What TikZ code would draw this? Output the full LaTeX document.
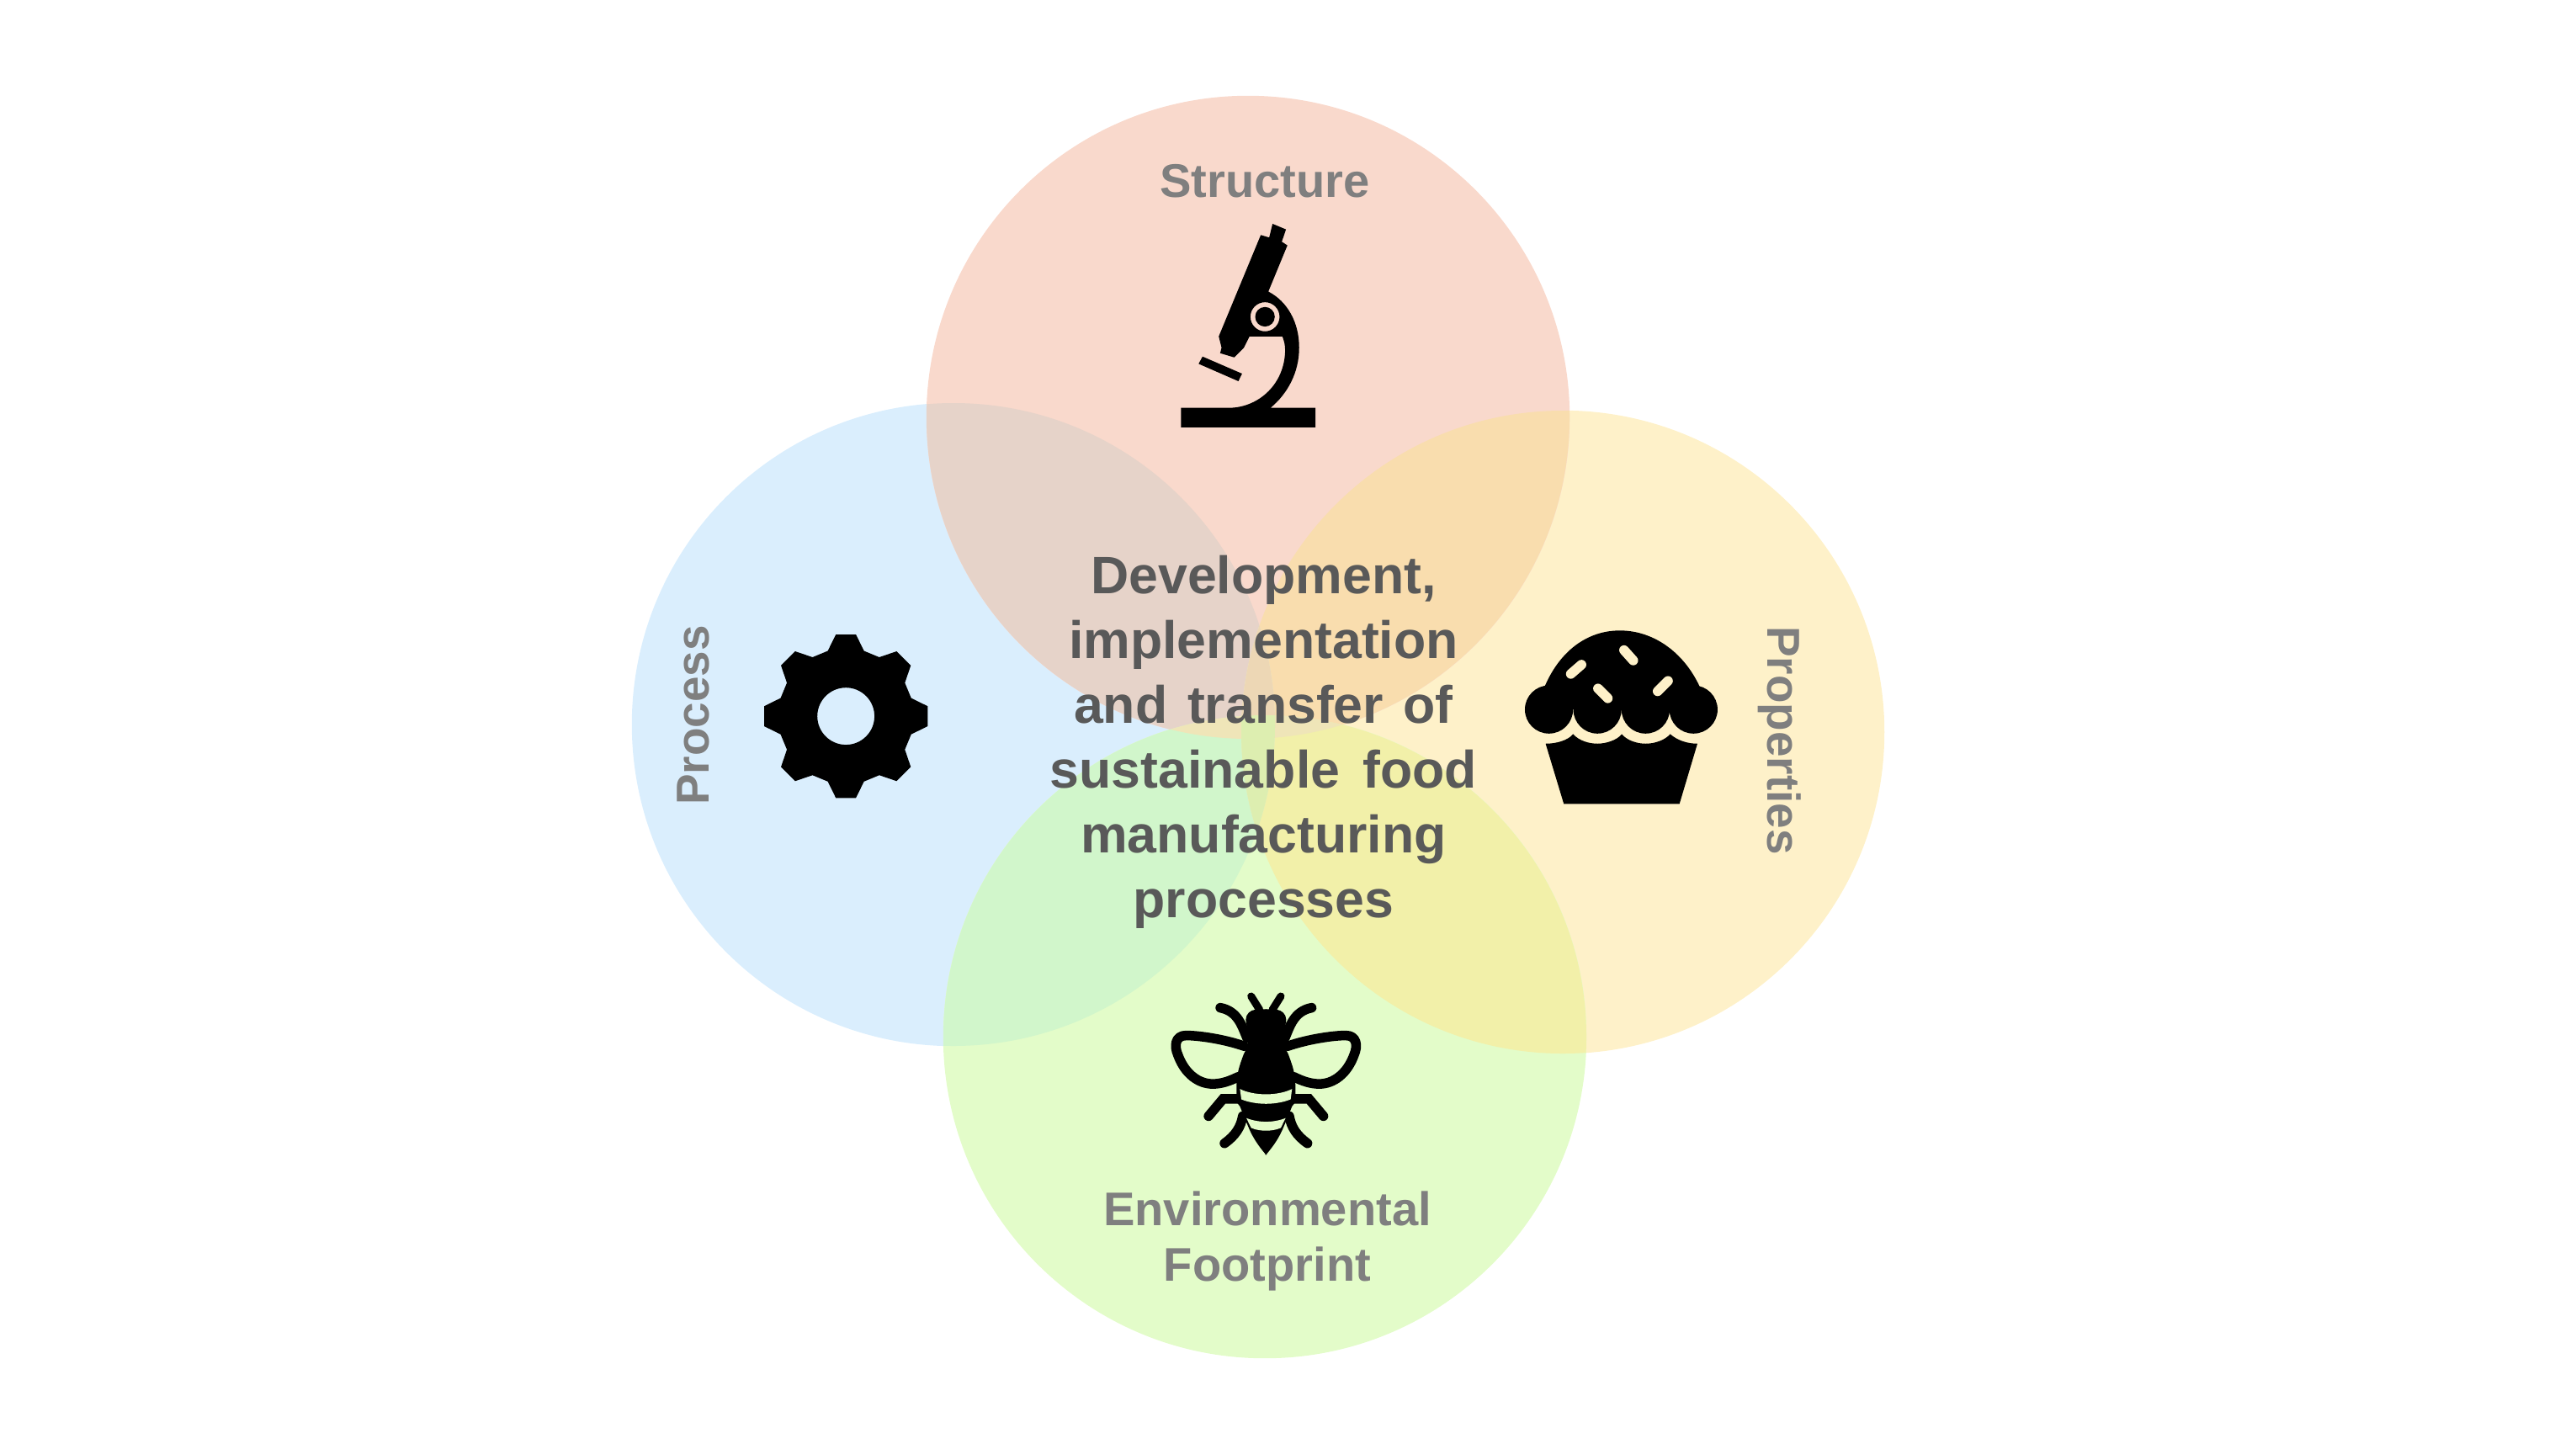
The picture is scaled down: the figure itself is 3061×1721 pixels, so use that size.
\documentclass[tikz,border=0pt]{standalone}
\usepackage{fontspec}
\setmainfont{Liberation Sans}
\definecolor{cred}{HTML}{F9D9CC}
\definecolor{cblue}{HTML}{DAEEFD}
\definecolor{cyell}{HTML}{FEF1C9}
\definecolor{cgreen}{HTML}{E3FCC9}
\definecolor{lensrb}{HTML}{E6D3C9}
\definecolor{lensry}{HTML}{F9DDAE}
\definecolor{lensbg}{HTML}{D1F6CB}
\definecolor{lensyg}{HTML}{F2F0A9}
\definecolor{lensby}{HTML}{E6EDCB}
\definecolor{lensrg}{HTML}{EFE5B8}
\definecolor{lensrby}{HTML}{EDD7B5}
\definecolor{lensbyg}{HTML}{DDEEB0}
\definecolor{txtouter}{HTML}{7F7F7F}
\definecolor{txtmain}{HTML}{595959}
\tikzset{
 venn/.style={circle,minimum size=7.64cm,inner sep=0pt,draw=none},
 outerlabel/.style={text=txtouter,font=\fontsize{15.95}{19}\selectfont\bfseries,align=center,inner sep=0pt},
 sidelabel/.style={text=txtouter,font=\fontsize{15.6}{19}\selectfont\bfseries,align=center,inner sep=0pt},
 mainlabel/.style={text=txtmain,font=\fontsize{17.8}{21.9}\selectfont\bfseries,align=center,inner sep=0pt},
 beestroke/.style={line width=0.115cm,line cap=round,line join=round},
}
\newcommand{\vclip}[1]{\clip (#1.center) circle[radius=382];}
\newcommand{\lenstwo}[3]{\begin{scope}\vclip{#1}\vclip{#2}\fill[#3] (0,0) rectangle (3061,1721);\end{scope}}
\newcommand{\lensthree}[4]{\begin{scope}\vclip{#1}\vclip{#2}\vclip{#3}\fill[#4] (0,0) rectangle (3061,1721);\end{scope}}
\begin{document}
\begin{tikzpicture}[x=0.01cm,y=-0.01cm]
\useasboundingbox (0,0) rectangle (3061,1721);
\node[venn,fill=cblue] (process) at (1133,861) {};
\node[venn,fill=cyell] (properties) at (1857,870) {};
\node[venn,fill=cred] (structure) at (1483,496) {};
\node[venn,fill=cgreen] (footprint) at (1503,1232) {};
\lenstwo{structure}{process}{lensrb}
\lenstwo{structure}{properties}{lensry}
\lenstwo{process}{footprint}{lensbg}
\lenstwo{properties}{footprint}{lensyg}
\lenstwo{process}{properties}{lensby}
\lenstwo{structure}{footprint}{lensrg}
\lensthree{structure}{process}{properties}{lensrby}
\lensthree{process}{properties}{footprint}{lensbyg}
\node[outerlabel] (lstructure) at (1503,215) {Structure};
\node[sidelabel,rotate=90] (lprocess) at (824,850) {Process};
\node[sidelabel,rotate=-90] (lproperties) at (2115,880) {Properties};
\node[outerlabel] (lfootprint) at (1506,1475) {Environmental\\Footprint};
\node[mainlabel] (centre) at (1501.5,882) {Development,\\implementation\\and\hspace{0.1em} transfer\hspace{0.1em} of\\sustainable\hspace{0.16em} food\\manufacturing\\processes};
% microscope
\begin{scope}[shift={(1380,250)},x=0.003333cm,y=-0.003333cm]
\fill[even odd rule] (397,48)--(445,68)--(430,112)--(450,125)--(382,290)
 .. controls (450,325) and (492,400) .. (492,490)
 .. controls (492,580) and (450,655) .. (390,705) -- (550,705)--(550,775)--(70,775)--(70,705)--(250,705)
 .. controls (350,700) and (440,620) .. (442,500)
 .. controls (442,480) and (438,465) .. (432,450) -- (315,450) -- (295,490) -- (260,525) -- (210,510) -- (215,490) -- (205,450) -- (355,88) -- (385,97) -- cycle
 (370,380) circle[radius=52] (370,380) circle[radius=35];
\fill (147,522)--(288,583)--(275,610)--(133,548)--cycle;
\end{scope}
% gear
\begin{scope}[shift={(890,730)},x=0.003333cm,y=-0.003333cm]
\fill[even odd rule,shift={(346,364)}] (-15.5:242)
 \foreach \a in {0,45,...,315} { -- (\a-15.5:242) -- (\a-7:294) -- (\a+7:294) -- (\a+15.5:242) } -- cycle
 (0,0) circle[radius=102];
\end{scope}
% muffin
\begin{scope}[shift={(1790,730)},x=0.003333cm,y=-0.003333cm]
\fill (130,340) -- (130,265) -- (135,262) .. controls (190,130) and (290,58) .. (405,58) .. controls (520,58) and (630,130) .. (690,258) -- (700,340) -- cycle;
\foreach \c in {152,325,497,668} \fill (\c,340) circle[radius=86];
\draw[cyell,line width=0.115cm,line cap=round] (230,213)--(268,180) (420,128)--(453,165) (327,265)--(362,300) (540,275)--(577,238);
\fill (140,462) .. controls (180,462) and (220,450) .. (238,428) .. controls (260,452) and (295,462) .. (325,462) .. controls (355,462) and (395,450) .. (412,428) .. controls (430,450) and (465,462) .. (497,462) .. controls (530,462) and (565,450) .. (585,428) .. controls (610,450) and (645,462) .. (682,462) -- (618,677) -- (205,677) -- cycle;
\end{scope}
% bee
\begin{scope}[shift={(1504.33,1160)},x=0.003333cm,y=-0.003333cm]
\foreach \s in {1,-1}{
\begin{scope}[xscale=\s]
\draw[beestroke,line width=0.09cm] (-23,120)--(-53,72);
\draw[beestroke] (-68,220) .. controls (-85,180) and (-100,125) .. (-163,113);
\draw[beestroke] (-78,250) .. controls (-150,225) and (-240,212) .. (-285,212) .. controls (-325,212) and (-328,250) .. (-315,280) .. controls (-290,350) and (-240,385) .. (-190,385) .. controls (-160,385) and (-130,375) .. (-100,360);
\draw[beestroke,line join=miter] (-95,438)--(-153,438)--(-205,500);
\draw[beestroke] (-83,500) .. controls (-90,540) and (-110,570) .. (-148,597);
\fill (2,118) -- (-40,120) .. controls (-55,122) and (-72,135) .. (-72,155) .. controls (-72,170) and (-67,180) .. (-64,190) -- (-65,250) -- (-80,280) .. controls (-95,320) and (-105,350) .. (-105,390) -- (-105,450) -- (-93,465) -- (-75,510) -- (-58,550) .. controls (-40,590) and (-15,620) .. (0,638) -- (2,638) -- cycle;
\end{scope}}
\fill[cgreen] (0,422) .. controls (-35,422) and (-70,415) .. (-93,403) -- (-88,440) .. controls (-65,450) and (-30,456) .. (0,456) .. controls (30,456) and (65,450) .. (88,440) -- (93,403) .. controls (70,415) and (35,422) .. (0,422) -- cycle;
\fill[cgreen] (0,520) .. controls (-25,520) and (-50,515) .. (-70,507) -- (-53,542) .. controls (-35,550) and (-15,552) .. (0,552) .. controls (15,552) and (35,550) .. (53,542) -- (70,507) .. controls (50,515) and (25,520) .. (0,520) -- cycle;
\end{scope}
\end{tikzpicture}
\end{document}
